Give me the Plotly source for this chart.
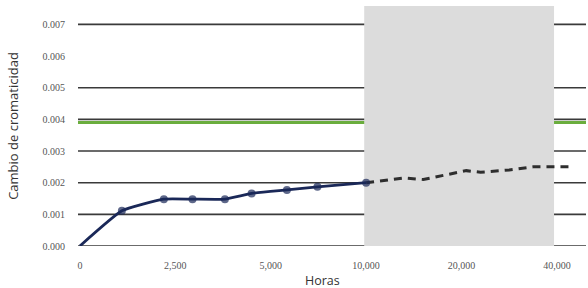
import numpy as np
import plotly.graph_objects as go

# ---- data ----
tick_hours = [0, 2500, 5000, 10000, 20000, 40000]
tick_labels = ["0", "2,500", "5,000", "10,000", "20,000", "40,000"]

meas_hours = [0, 1100, 2200, 2950, 3800, 4500, 5850, 7450, 10000]
meas_values = [0.0, 0.00111, 0.00148, 0.00148, 0.00148, 0.00166, 0.00177, 0.00187, 0.0020]

proj_hours = [10000, 14000, 16000, 21000, 24000, 30000, 35000, 43500]
proj_values = [0.0020, 0.00215, 0.00210, 0.00238, 0.00233, 0.00240, 0.00250, 0.00250]

y_ticks = [0.0, 0.001, 0.002, 0.003, 0.004, 0.005, 0.006, 0.007]
grid_values = [0.0, 0.001, 0.002, 0.003, 0.004, 0.005, 0.007]
limit_value = 0.0039
shade_hours = [10000, 40000]


def hours_to_axis(h):
    """Equal-interval piecewise scale through the tick hours."""
    h = np.asarray(h, dtype=float)
    th = np.asarray(tick_hours, dtype=float)
    idx = np.arange(len(th), dtype=float)
    pos = np.interp(h, th, idx)
    last = th[-1] - th[-2]
    over = h > th[-1]
    pos[over] = idx[-1] + (h[over] - th[-1]) / last
    return pos


fig = go.Figure()

x0, x1 = hours_to_axis(shade_hours)
fig.add_shape(type="rect", xref="x", yref="y", x0=x0 - 0.02, x1=x1 - 0.03, y0=0, y1=0.00758,
              fillcolor="#dcdcdc", line_width=0, layer="below")

for g in grid_values:
    fig.add_shape(type="line", xref="paper", yref="y", x0=0, x1=1, y0=g, y1=g,
                  line=dict(color="#3a3a3a", width=1.6), layer="below")

fig.add_shape(type="line", xref="paper", yref="y", x0=0, x1=1, y0=limit_value, y1=limit_value,
              line=dict(color="#6aad3d", width=3), layer="below")

fig.add_trace(go.Scatter(
    x=hours_to_axis(proj_hours), y=proj_values, mode="lines",
    line=dict(color="#2e2e2e", width=3, dash="8px,6px"), hoverinfo="skip"))

sizes = [0] + [8] * (len(meas_hours) - 1)
fig.add_trace(go.Scatter(
    x=hours_to_axis(meas_hours), y=meas_values, mode="lines+markers",
    line=dict(color="#1a2858", width=2.8, shape="spline", smoothing=0.4),
    marker=dict(size=sizes, color="#1a2858", line=dict(width=0))))

fig.update_layout(
    width=588, height=288,
    margin=dict(l=78, r=2, t=6, b=42),
    paper_bgcolor="white", plot_bgcolor="white",
    showlegend=False,
    xaxis=dict(range=[-0.02, 5.305], tickmode="array",
               tickvals=list(range(len(tick_hours))), ticktext=tick_labels,
               showgrid=False, zeroline=False, showline=False,
               ticks="outside", ticklen=10, tickcolor="rgba(0,0,0,0)",
               tickfont=dict(family="Liberation Serif", size=10, color="#555")),
    yaxis=dict(range=[0, 0.00758], tickmode="array", tickvals=y_ticks,
               ticktext=[f"{v:.3f}" for v in y_ticks],
               showgrid=False, zeroline=False, showline=False,
               ticks="outside", ticklen=10, tickcolor="rgba(0,0,0,0)",
               tickfont=dict(family="Liberation Serif", size=10, color="#555"),
               title=dict(text="Cambio de cromaticidad", standoff=20,
                          font=dict(family="Open Sans", size=13, color="#333"))),
    annotations=[dict(text="Horas", xref="paper", yref="paper",
                      x=(322 - 78) / 508, y=0, yshift=-45, showarrow=False,
                      font=dict(family="Open Sans", size=12.5, color="#333"))],
)

fig.write_html("out.html", config={"displayModeBar": False},
               post_script="document.body.style.margin='0';")
